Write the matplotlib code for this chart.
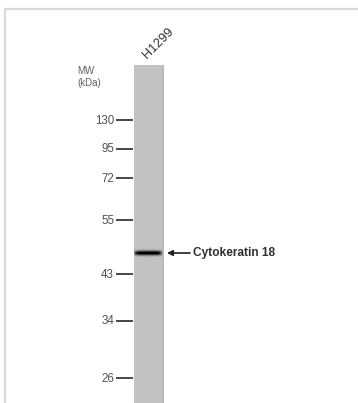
import numpy as np
import matplotlib.pyplot as plt

# molecular weight ladder (kDa) and migration position of each marker
mw_labels = ['130', '95', '72', '55', '43', '34', '26']
mw_pos = [120, 149, 178, 220, 274, 321, 378]

lane_names = ['H1299']
band_names = ['Cytokeratin 18']
band_pos = [253]
band_strength = [0.85]

W, H = 358, 403
fig = plt.figure(figsize=(W / 100, H / 100), dpi=100)
ax = fig.add_axes([0, 0, 1, 1])
ax.set_xlim(0, W)
ax.set_ylim(H, 0)
ax.axis('off')

# light frame at the top and left
ax.plot([4, W], [9, 9], color='#d9d9d9', lw=1.6, solid_capstyle='butt')
ax.plot([5, 5], [9, H], color='#d9d9d9', lw=1.6, solid_capstyle='butt')

# lane as an image: gray background with darker band(s)
lane_x0, lane_x1 = 134, 164
lane_top = 65
rows = np.arange(lane_top, H) + 0.5
cols = np.linspace(0, 1, 30)
img = np.full((len(rows), len(cols)), 0.76)
img[:, -2:] -= 0.03
for pos, s in zip(band_pos, band_strength):
    prof = s * np.exp(-0.5 * ((rows - pos) / 1.6) ** 2)
    horiz = np.clip(1.0 - np.abs(cols - 0.47) ** 6 * 60, 0, 1)
    img -= prof[:, None] * horiz[None, :]
img = np.clip(img, 0, 1)
ax.imshow(img, cmap='gray', vmin=0, vmax=1, aspect='auto',
          extent=[lane_x0, lane_x1, H, lane_top], interpolation='bilinear')

# ladder ticks and labels
for lab, y in zip(mw_labels, mw_pos):
    ax.plot([117, 132], [y, y], color='#454545', lw=1.4)
    ax.text(114, y + 0.5, lab, ha='right', va='center', fontsize=8.3,
            color='#505050', family='Liberation Sans')

ax.text(77, 77, 'MW\n(kDa)', ha='left', va='center', fontsize=7,
        color='#606060', family='Liberation Sans', linespacing=1.15)

# lane name
for i, name in enumerate(lane_names):
    ax.text(lane_x0 + 15, 61, name, rotation=45, ha='left', va='bottom',
            fontsize=9.3, color='#303030', family='Liberation Sans',
            rotation_mode='anchor')

# band annotation
for name, y in zip(band_names, band_pos):
    ax.annotate('', xy=(167, y), xytext=(190, y),
                arrowprops=dict(arrowstyle='-|>', color='#202020', lw=1.2,
                                mutation_scale=8, shrinkA=0, shrinkB=0))
    ax.text(193, y, name, ha='left', va='center', fontsize=8.6,
            color='#303030', family='Liberation Sans', fontweight='bold')

fig.savefig('out.png', dpi=100)
